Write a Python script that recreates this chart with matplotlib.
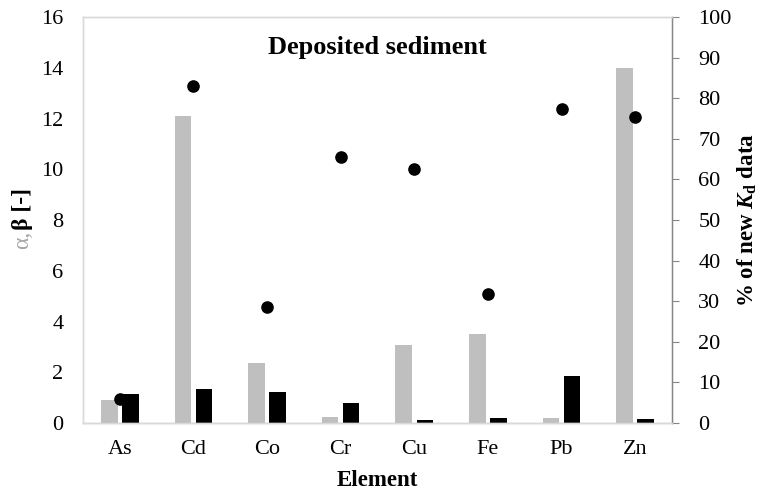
import numpy as np
import matplotlib.pyplot as plt

elements = ["As", "Cd", "Co", "Cr", "Cu", "Fe", "Pb", "Zn"]
alpha_vals = [0.9, 12.1, 2.36, 0.24, 3.07, 3.5, 0.2, 14.0]
beta_vals = [1.13, 1.35, 1.22, 0.79, 0.12, 0.2, 1.84, 0.15]
new_kd_pct = [6.0, 83.1, 28.6, 65.6, 62.6, 31.9, 77.3, 75.3]

plt.rcParams['font.family'] = ['Liberation Serif', 'DejaVu Serif']
plt.rcParams['mathtext.fontset'] = 'custom'
plt.rcParams['mathtext.rm'] = 'Liberation Serif:bold'
plt.rcParams['mathtext.it'] = 'Liberation Serif:italic:bold'
plt.rcParams['mathtext.bf'] = 'Liberation Serif:bold'

fig = plt.figure(figsize=(7.58, 4.92), dpi=100)
ax = fig.add_axes([0.1095, 0.1402, 0.777, 0.8252])
ax2 = ax.twinx()

x = np.arange(len(elements))
w = 0.225
off = 0.143
ax.bar(x - off, alpha_vals, w, color="#bfbfbf", zorder=2)
ax.bar(x + off, beta_vals, w, color="black", zorder=2)
ax2.scatter(x, new_kd_pct, s=65, color="black", zorder=3)

ax.set_xlim(-0.5, len(elements) - 0.5)
ax.set_ylim(0, 16)
ax.set_yticks(np.arange(0, 17, 2))
ax.set_xticks(x)
ax.set_xticklabels(elements)
ax2.set_ylim(0, 100)
ax2.set_yticks(np.arange(0, 101, 10))

for a in (ax, ax2):
    for s in a.spines.values():
        s.set_color("#d9d9d9")
        s.set_linewidth(1)
ax2.spines["right"].set_color("#868686")
ax.spines["bottom"].set_color("#bfbfbf")

ax.tick_params(axis="y", length=0, labelsize=16, pad=14)
ax.tick_params(axis="x", length=0, labelsize=16, pad=12)
ax2.tick_params(axis="y", direction="out", length=5, color="#868686",
                labelsize=16, pad=14)

ax.set_xlabel("Element", fontsize=16.5, fontweight="bold", labelpad=8)
ax2.set_ylabel(r"% of new $K_{\mathrm{d}}$ data", fontsize=16.5,
               fontweight="bold", labelpad=2.5)

# left label: alpha in grey, beta in black
fig.text(0.030, 1 - 231 / 492, "α,", rotation=90, color="#a6a6a6",
         fontsize=17, ha="center", va="top")
fig.text(0.030, 1 - 230 / 492, "β [-]", rotation=90, color="black",
         fontsize=17, fontweight="bold", ha="center", va="bottom")

ax.text(0.5, 1 - 30 / 406, "Deposited sediment", transform=ax.transAxes,
        ha="center", va="center", fontsize=19, fontweight="bold")

fig.savefig("out.png", dpi=100)
